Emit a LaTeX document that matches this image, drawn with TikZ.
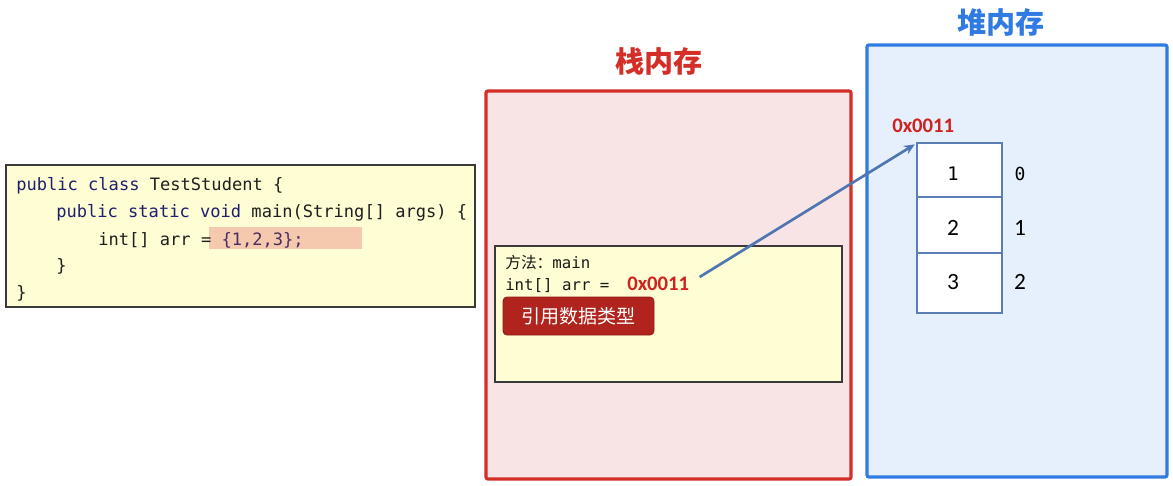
\documentclass[tikz,border=0pt]{standalone}
\usepackage{fontspec}
\newfontfamily\cjk{Noto Sans CJK SC}
\newfontfamily\mono{DejaVu Sans Mono}
\newfontfamily\calib{Carlito}
\usetikzlibrary{arrows.meta}

\definecolor{codefill}{HTML}{FEFDD3}
\definecolor{codeedge}{HTML}{3A3A3A}
\definecolor{hilite}{HTML}{F5C9AE}
\definecolor{kwnavy}{HTML}{1E1E6E}
\definecolor{litpurple}{HTML}{4A2C60}
\definecolor{stackred}{HTML}{D42E28}
\definecolor{stackfill}{HTML}{F9E4E5}
\definecolor{heapblue}{HTML}{2F7BE2}
\definecolor{heapfill}{HTML}{E6F0FC}
\definecolor{addrred}{HTML}{D0221E}
\definecolor{btnred}{HTML}{B0241D}
\definecolor{linkblue}{HTML}{4E76B2}
\definecolor{celledge}{HTML}{5B7EB6}

\newcommand{\pxu}{0.75pt}

\tikzset{
  box/.style={draw, anchor=north west, inner sep=0pt, outer sep=0pt},
  codebox/.style={box, fill=codefill, draw=codeedge, line width=1.1pt},
  stackbox/.style={box, fill=stackfill, draw=stackred, line width=2.4pt, rounded corners=1.5pt},
  heapbox/.style={box, fill=heapfill, draw=heapblue, line width=2.4pt, rounded corners=1.5pt},
  framebox/.style={box, fill=codefill, draw=codeedge, line width=1.1pt},
  codeline/.style={anchor=base west, inner sep=0pt, font=\mono\fontsize{12.8}{14}\selectfont, text=black!88},
  frameline/.style={anchor=base west, inner sep=0pt, font=\mono\fontsize{11.8}{14}\selectfont, text=black!90},
  title/.style={font=\cjk\bfseries\fontsize{21.8}{24}\selectfont, inner sep=0pt},
  addr/.style={anchor=base west, inner sep=0pt, font=\calib\bfseries\fontsize{15.5}{17}\selectfont, text=addrred},
  refbtn/.style={box, fill=btnred, draw=btnred!80!black, line width=0.6pt, rounded corners=3pt},
  cell/.style={box, fill=white, draw=celledge, line width=1.5pt, minimum width=85*\pxu},
  val/.style={inner sep=0pt, font=\calib\fontsize{17.5}{19}\selectfont},
  idx/.style={inner sep=0pt, font=\calib\fontsize{17.5}{19}\selectfont},
  link/.style={draw=linkblue, line width=2pt, -{Stealth[length=8pt,width=7pt]}}
}

\begin{document}
\begin{tikzpicture}[x=0.75pt, y=-0.75pt]
\useasboundingbox[fill=white] (0,0) rectangle (1173,485);

% source code
\node[codebox, minimum width=469*\pxu, minimum height=142*\pxu] (code) at (6,165) {};
\fill[hilite] (209,227) rectangle (362,249);
\node[codeline] (c1) at (16,190) {{\color{kwnavy}public class} TestStudent \{};
\node[codeline] (c2) at (56,217) {{\color{kwnavy}public static void} main(String[] args) \{};
\node[codeline] (c3) at (98,245) {int[] arr = {\color{litpurple}\{1,2,3\};}};
\node[codeline] (c4) at (56,271) {\}};
\node[codeline] (c5) at (16,298) {\}};

% stack memory
\node[title, text=stackred] (stitle) at (659,61) {栈内存};
\node[stackbox, minimum width=365*\pxu, minimum height=388*\pxu] (stack) at (486,91) {};
\node[framebox, minimum width=347*\pxu, minimum height=136*\pxu] (frame) at (495,246) {};
\node[frameline] (m1) at (505,268) {{\cjk 方法：}main};
\node[frameline] (m2) at (505,290) {int[] arr =};
\node[addr] (ptr) at (627,290) {0x0011};
\node[refbtn, minimum width=151*\pxu, minimum height=38*\pxu] (ref) at (503,297) {};
\node at (ref.center) [text=white, font=\cjk\fontsize{14.3}{16}\selectfont, inner sep=0pt] (reftext) {引用数据类型};

% heap memory
\node[title, text=heapblue] (htitle) at (1001,22) {堆内存};
\node[heapbox, minimum width=300*\pxu, minimum height=432*\pxu] (heap) at (867,45) {};
\node[addr] (haddr) at (892,132) {0x0011};
\node[cell, minimum height=54*\pxu] (cell1) at (917,143) {};
\node[cell, minimum height=56*\pxu] (cell2) at (917,197) {};
\node[cell, minimum height=60*\pxu] (cell3) at (917,253) {};
\node[inner sep=0pt, font=\mono\fontsize{14}{16}\selectfont] (v1) at (953,174) {1};
\node[val] (v2) at (953,228) {2};
\node[val] (v3) at (953,282) {3};
\node[inner sep=0pt, font=\mono\fontsize{13.5}{16}\selectfont] (i0) at (1020,174) {0};
\node[idx] (i1) at (1020,228) {1};
\node[idx] (i2) at (1020,282) {2};

% reference arrow
\draw[link, shorten <=9pt, shorten >=2pt] (ptr.east) -- (cell1.north west);
\end{tikzpicture}
\end{document}
